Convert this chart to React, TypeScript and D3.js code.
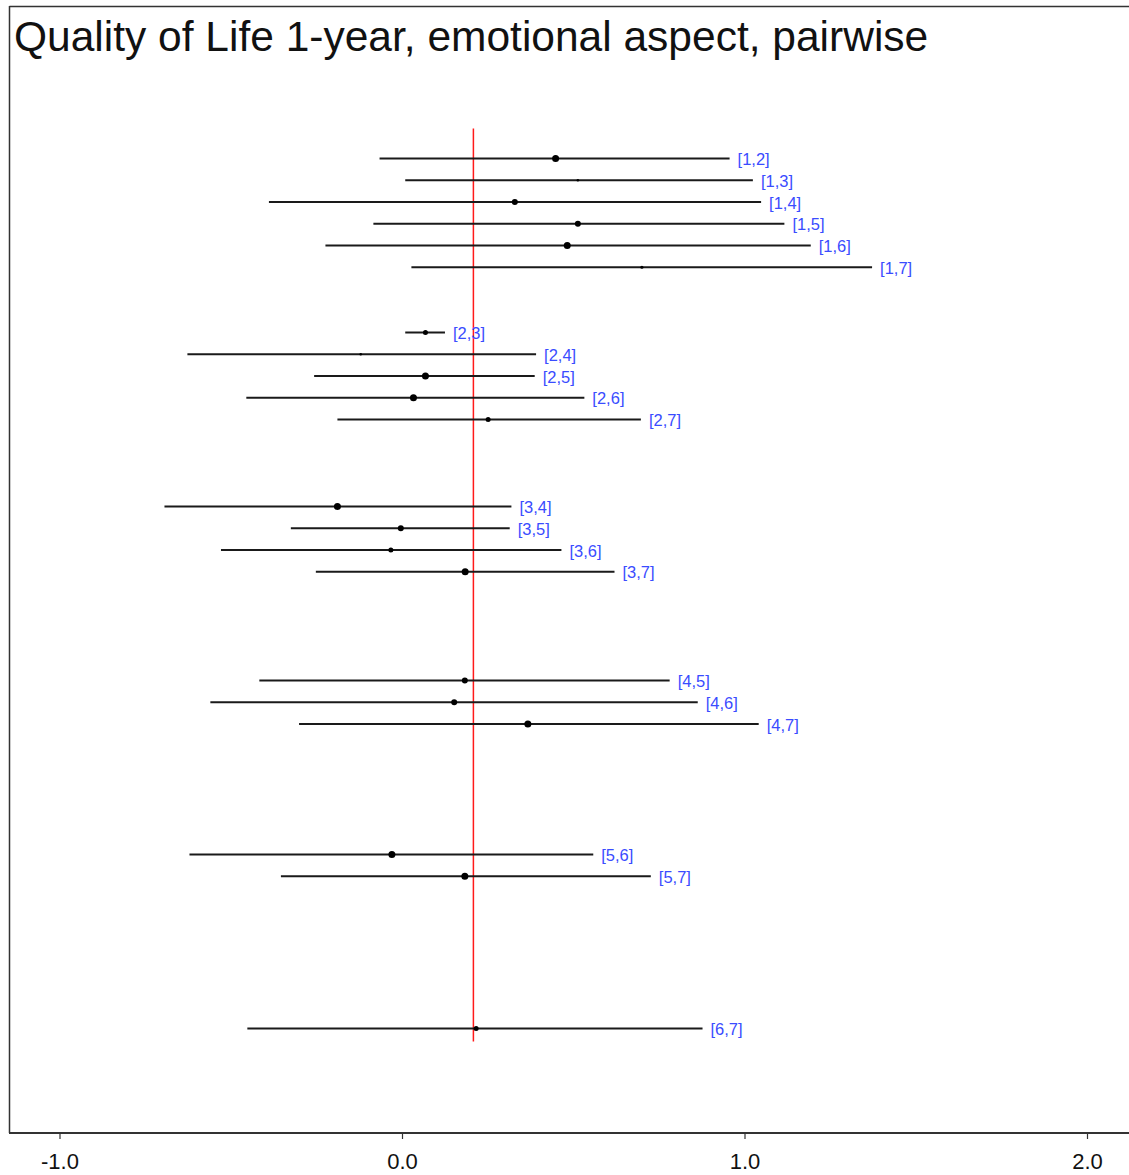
import React from "react";
import * as d3 from "d3";

const pairs: string[] = [
  "[1,2]", "[1,3]", "[1,4]", "[1,5]", "[1,6]", "[1,7]",
  "[2,3]", "[2,4]", "[2,5]", "[2,6]", "[2,7]",
  "[3,4]", "[3,5]", "[3,6]", "[3,7]",
  "[4,5]", "[4,6]", "[4,7]",
  "[5,6]", "[5,7]",
  "[6,7]",
];
const lower: number[] = [
  -0.067, 0.008, -0.390, -0.085, -0.225, 0.026,
  0.008, -0.628, -0.258, -0.456, -0.190,
  -0.695, -0.326, -0.530, -0.253,
  -0.418, -0.561, -0.302,
  -0.622, -0.355,
  -0.453,
];
const estimate: number[] = [
  0.447, 0.512, 0.328, 0.512, 0.481, 0.699,
  0.067, -0.122, 0.067, 0.032, 0.250,
  -0.190, -0.005, -0.034, 0.183,
  0.182, 0.151, 0.366,
  -0.031, 0.182,
  0.215,
];
const upper: number[] = [
  0.955, 1.023, 1.047, 1.115, 1.192, 1.371,
  0.124, 0.390, 0.386, 0.531, 0.696,
  0.318, 0.313, 0.464, 0.619,
  0.780, 0.862, 1.040,
  0.557, 0.725,
  0.876,
];
const weight: number[] = [
  3.5, 1.3, 3, 3, 3.5, 1.6,
  2.5, 1.3, 3.5, 3.5, 2.5,
  3.5, 3, 2.5, 3.5,
  3, 3, 3.5,
  3.5, 3.5,
  2.5,
];
const refValue = 0.207;
const xTicks: number[] = [-1, 0, 1, 2];
const xTickLabels: string[] = ["-1.0", "0.0", "1.0", "2.0"];
const title = "Quality of Life 1-year, emotional aspect, pairwise";

function slotOf(label: string): number {
  const m = label.match(/\[(\d+),(\d+)\]/)!;
  const i = +m[1];
  const j = +m[2];
  return 8 * (i - 1) + (j - i - 1);
}

export default function App() {
  const W = 1129;
  const H = 1175;
  const x = d3.scaleLinear().domain([-1, 2]).range([60, 1087.5]);
  const y = d3.scaleLinear().domain([0, 40]).range([158.5, 1028.5]);
  const axisY = 1133;
  const font = "'Liberation Sans', Arial, sans-serif";

  return (
    <svg
      width={W}
      height={H}
      style={{ position: "absolute", left: 0, top: 0, background: "#fff" }}
    >
      <rect x={0} y={0} width={W} height={H} fill="#fff" />
      <line x1={9.5} x2={W} y1={6.5} y2={6.5} stroke="#333" strokeWidth={1.5} />
      <line x1={9.5} x2={9.5} y1={6} y2={axisY} stroke="#333" strokeWidth={1.5} />
      <line x1={9} x2={W} y1={axisY} y2={axisY} stroke="#333" strokeWidth={2} />
      {xTicks.map((t, i) => (
        <g key={t}>
          <line x1={x(t)} x2={x(t)} y1={axisY} y2={axisY + 6} stroke="#333" strokeWidth={1.2} />
          <text
            x={x(t)}
            y={axisY + 36}
            textAnchor="middle"
            fontFamily={font}
            fontSize={22}
            fill="#111"
          >
            {xTickLabels[i]}
          </text>
        </g>
      ))}
      <text x={14} y={51} fontFamily={font} fontSize={42.5} fill="#111">
        {title}
      </text>
      <line
        x1={x(refValue)}
        x2={x(refValue)}
        y1={y(-1.38)}
        y2={y(40.6)}
        stroke="#ff1a1a"
        strokeWidth={1.5}
      />
      {pairs.map((p, k) => {
        const yy = y(slotOf(p));
        return (
          <g key={p}>
            <line
              x1={x(lower[k])}
              x2={x(upper[k])}
              y1={yy}
              y2={yy}
              stroke="#1a1a1a"
              strokeWidth={1.8}
            />
            <circle cx={x(estimate[k])} cy={yy} r={weight[k]} fill="#000" />
            <text
              x={x(upper[k]) + 8}
              y={yy + 6.5}
              fontFamily={font}
              fontSize={16.5}
              fill="#3a4cff"
            >
              {p}
            </text>
          </g>
        );
      })}
    </svg>
  );
}
